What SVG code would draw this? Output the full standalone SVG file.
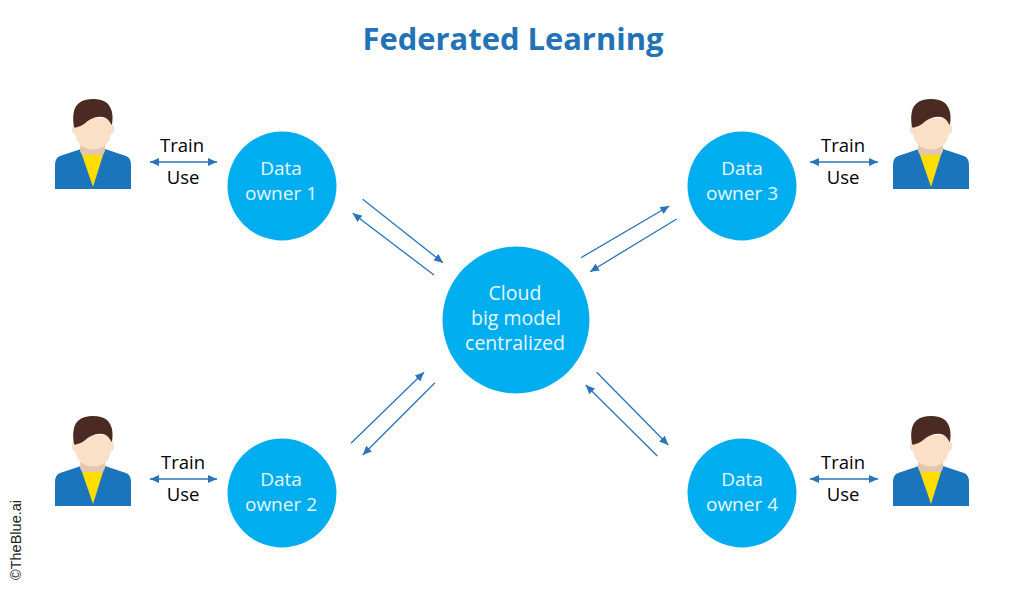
<svg xmlns="http://www.w3.org/2000/svg" width="1024" height="591" viewBox="0 0 1024 591">
<style>
text{font-family:"Open Sans","Noto Sans","Liberation Sans",sans-serif;text-anchor:middle}
.title{font-size:30.9px;font-weight:700;fill:#2272b6}
.circle{fill:#00aeef}
.cl{font-size:19px;fill:#e6f7fe}
.cloud{font-size:19.5px;fill:#e6f7fe}
.tu{font-size:18.5px;fill:#000}
.link{stroke:#2b74b8;stroke-width:1.3;fill:none;marker-end:url(#ah)}
.dbl{stroke:#2b74b8;stroke-width:1.3;fill:none;marker-end:url(#ah);marker-start:url(#ahs)}
.credit{font-family:"Liberation Sans",Arial,sans-serif;font-size:14.5px;fill:#222}
</style>
<defs>
<marker id="ah" markerUnits="userSpaceOnUse" markerWidth="10" markerHeight="8" refX="9" refY="4" orient="auto"><path d="M0 0L9 4L0 8z" fill="#2b74b8"/></marker>
<marker id="ahs" markerUnits="userSpaceOnUse" markerWidth="10" markerHeight="8" refX="0" refY="4" orient="auto"><path d="M9 0L0 4L9 8z" fill="#2b74b8"/></marker>
<g id="person">
<path d="M55 189V165Q55 158 60 156L81 149L93 152L105 149L126 156Q131 158 131 165V189z" fill="#1b75bc"/>
<path d="M81 138H105V151L103 155H82L80 151z" fill="#e3c6ae"/>
<path d="M82 155H103L93 187z" fill="#ffdd00"/>
<ellipse cx="74.500" cy="129" rx="2.500" ry="5" fill="#fbe0c8"/>
<ellipse cx="111.500" cy="129" rx="2.500" ry="5" fill="#fbe0c8"/>
<path d="M75 118H111V131Q111 142 103 147Q93 152 83 147Q75 142 75 131z" fill="#fbe0c8"/>
<path d="M74 127Q70 104 85 100Q93 98 101 100Q115 104 112 125L111 124Q108 118 103 117Q97 116 91 119Q87 121 84 124Q80 127 76 127.500Q75 128 74 127z" fill="#4a2a22"/>
</g>
</defs>
<rect width="1024" height="591" fill="#fff"/>
<text class="title" x="513" y="50">Federated Learning</text>
<g id="connectors">
<line class="link" x1="362.7" y1="199.3" x2="443" y2="262.7"/>
<line class="link" x1="434" y1="275" x2="352.7" y2="213.3"/>
<line class="link" x1="581" y1="257.7" x2="669.3" y2="206"/>
<line class="link" x1="676.7" y1="219" x2="590" y2="271.7"/>
<line class="link" x1="351" y1="443.3" x2="424" y2="372.3"/>
<line class="link" x1="435" y1="382.7" x2="362.7" y2="455"/>
<line class="link" x1="596.7" y1="372.3" x2="668.3" y2="445"/>
<line class="link" x1="657.3" y1="456" x2="585.7" y2="385"/>
<line class="dbl" x1="150" y1="162" x2="217" y2="162"/>
<line class="dbl" x1="810" y1="162" x2="878" y2="162"/>
<line class="dbl" x1="150" y1="479" x2="217" y2="479"/>
<line class="dbl" x1="810" y1="479" x2="878" y2="479"/>
</g>
<g id="cloud"><circle class="circle" cx="516" cy="320" r="73.5"/>
<text class="cloud" x="515" y="300">Cloud</text><text class="cloud" x="516" y="325">big model</text><text class="cloud" x="515" y="350">centralized</text></g>
<g id="owner1"><circle class="circle" cx="282" cy="186" r="54.5"/><text class="cl" x="281" y="175">Data</text><text class="cl" x="281" y="200">owner 1</text></g>
<g id="owner3"><circle class="circle" cx="742" cy="186" r="54.5"/><text class="cl" x="742" y="175">Data</text><text class="cl" x="742" y="200">owner 3</text></g>
<g id="owner2"><circle class="circle" cx="282" cy="493" r="54.5"/><text class="cl" x="281" y="486">Data</text><text class="cl" x="281" y="511">owner 2</text></g>
<g id="owner4"><circle class="circle" cx="742" cy="493" r="54.5"/><text class="cl" x="742" y="486">Data</text><text class="cl" x="742" y="511">owner 4</text></g>
<g id="user1"><use href="#person"/><text class="tu" x="182" y="152">Train</text><text class="tu" x="183" y="184">Use</text></g>
<g id="user3"><use href="#person" x="838"/><text class="tu" x="843" y="152">Train</text><text class="tu" x="843" y="184">Use</text></g>
<g id="user2"><use href="#person" y="317"/><text class="tu" x="183" y="469">Train</text><text class="tu" x="183" y="501">Use</text></g>
<g id="user4"><use href="#person" x="838" y="317"/><text class="tu" x="843" y="469">Train</text><text class="tu" x="843" y="501">Use</text></g>
<text class="credit" transform="translate(21 540) rotate(-90)" x="0" y="0">©TheBlue.ai</text>
</svg>
